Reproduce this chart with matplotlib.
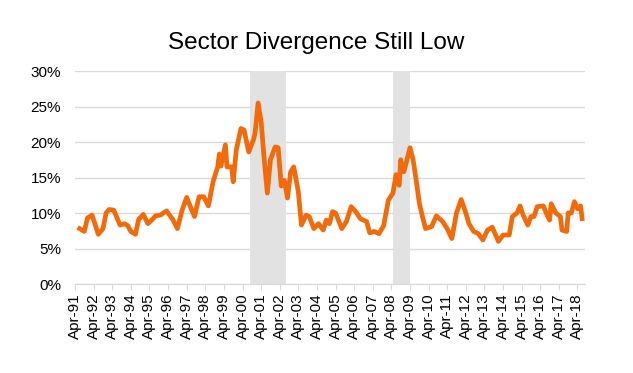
import pandas as pd
import matplotlib.pyplot as plt
import matplotlib.dates as mdates
from matplotlib.ticker import PercentFormatter

plt.rcParams['font.family'] = ['Liberation Sans', 'DejaVu Sans']

# monthly readings of sector divergence (%)
months = ['1991-07', '1991-10', '1991-12', '1992-03', '1992-07', '1992-10', '1992-12',
          '1993-02', '1993-05', '1993-09', '1993-12', '1994-02', '1994-04', '1994-07',
          '1994-09', '1994-12', '1995-03', '1995-05', '1995-08', '1995-11', '1996-03',
          '1996-07', '1996-10', '1997-01', '1997-04', '1997-06', '1997-09', '1997-12',
          '1998-03', '1998-06', '1998-09', '1998-12', '1999-01', '1999-02', '1999-05',
          '1999-06', '1999-09', '1999-10', '1999-12', '2000-03', '2000-05', '2000-08',
          '2000-11', '2000-12', '2001-02', '2001-04', '2001-06', '2001-08', '2001-10',
          '2002-01', '2002-03', '2002-05', '2002-07', '2002-09', '2002-11', '2003-01',
          '2003-04', '2003-06', '2003-09', '2003-11', '2004-02', '2004-05', '2004-08',
          '2004-10', '2004-12', '2005-02', '2005-04', '2005-08', '2005-11', '2006-02',
          '2006-05', '2006-08', '2006-12', '2007-02', '2007-05', '2007-08', '2007-11',
          '2008-02', '2008-05', '2008-07', '2008-09', '2008-10', '2008-12', '2009-02',
          '2009-04', '2009-06', '2009-08', '2009-10', '2009-12', '2010-02', '2010-06',
          '2010-09', '2011-01', '2011-04', '2011-07', '2011-10', '2012-01', '2012-04',
          '2012-06', '2012-09', '2012-12', '2013-03', '2013-06', '2013-09', '2014-01',
          '2014-04', '2014-08', '2014-10', '2015-01', '2015-03', '2015-05', '2015-08',
          '2015-10', '2015-12', '2016-02', '2016-06', '2016-08', '2016-10', '2016-11',
          '2017-02', '2017-05', '2017-06', '2017-09', '2017-10', '2017-12', '2018-02',
          '2018-04', '2018-06', '2018-07']
divergence = [7.8, 7.4, 9.3, 9.7, 7.0, 7.8, 10.0,
              10.5, 10.4, 8.3, 8.5, 8.2, 7.4, 7.0,
              9.1, 9.8, 8.5, 8.9, 9.6, 9.7, 10.3,
              9.1, 7.8, 10.4, 12.2, 11.1, 9.5, 12.3,
              12.3, 11.0, 14.4, 16.5, 18.3, 16.6, 19.6,
              16.5, 16.5, 14.4, 18.9, 21.9, 21.7, 18.6,
              20.3, 21.2, 25.5, 22.9, 17.5, 12.8, 17.5,
              19.3, 19.2, 13.8, 14.6, 12.1, 15.8, 16.5,
              13.0, 8.3, 9.7, 9.5, 7.8, 8.5, 7.6,
              9.0, 8.5, 10.2, 10.0, 7.8, 8.8, 10.9,
              10.2, 9.2, 8.8, 7.2, 7.4, 7.1, 8.2,
              11.8, 12.8, 15.4, 13.9, 17.5, 15.8, 17.5,
              19.2, 17.5, 14.6, 11.4, 9.5, 7.8, 8.1,
              9.6, 8.8, 7.8, 6.4, 10.0, 11.9, 10.0,
              8.5, 7.4, 7.1, 6.2, 7.6, 8.0, 6.0,
              6.9, 6.9, 9.5, 10.0, 11.0, 9.7, 8.3,
              9.5, 9.5, 10.9, 11.0, 9.9, 9.0, 11.3,
              10.0, 9.5, 7.6, 7.4, 10.0, 10.0, 11.6,
              10.6, 11.0, 9.2]

# recession periods
recessions = [('2000-09-01', '2002-08-01'), ('2008-05-01', '2009-04-01')]

dates = pd.to_datetime(months)

fig = plt.figure(figsize=(6.33, 3.73), dpi=100)
ax = fig.add_axes([0.1185, 0.2386, 0.8055, 0.571])

for start, end in recessions:
    ax.axvspan(pd.Timestamp(start), pd.Timestamp(end), color='#E2E2E2', lw=0, zorder=1)

ax.plot(dates, divergence, color='#F26A0A', lw=3.4, solid_joinstyle='round', zorder=3)

ax.set_ylim(0, 30)
ax.set_yticks(range(0, 31, 5))
ax.yaxis.set_major_formatter(PercentFormatter(decimals=0))
ax.grid(axis='y', color='#D9D9D9', lw=1)
ax.set_axisbelow(True)

ax.set_xlim(pd.Timestamp('1991-04-01'), pd.Timestamp('2018-08-25'))
ax.xaxis.set_major_locator(mdates.MonthLocator(bymonth=4))
ax.xaxis.set_major_formatter(mdates.DateFormatter('Apr-%y'))
for lab in ax.get_xticklabels():
    lab.set_rotation(90)

for s in ['top', 'right', 'left']:
    ax.spines[s].set_visible(False)
ax.spines['bottom'].set_color('#D9D9D9')
ax.tick_params(axis='x', colors='#D9D9D9', labelcolor='black', length=4, labelsize=11, pad=3)
ax.tick_params(axis='y', length=0, labelsize=11, pad=10)

fig.suptitle('Sector Divergence Still Low', fontsize=17.5, y=0.885, va='center')

fig.savefig('out.png', dpi=100)
